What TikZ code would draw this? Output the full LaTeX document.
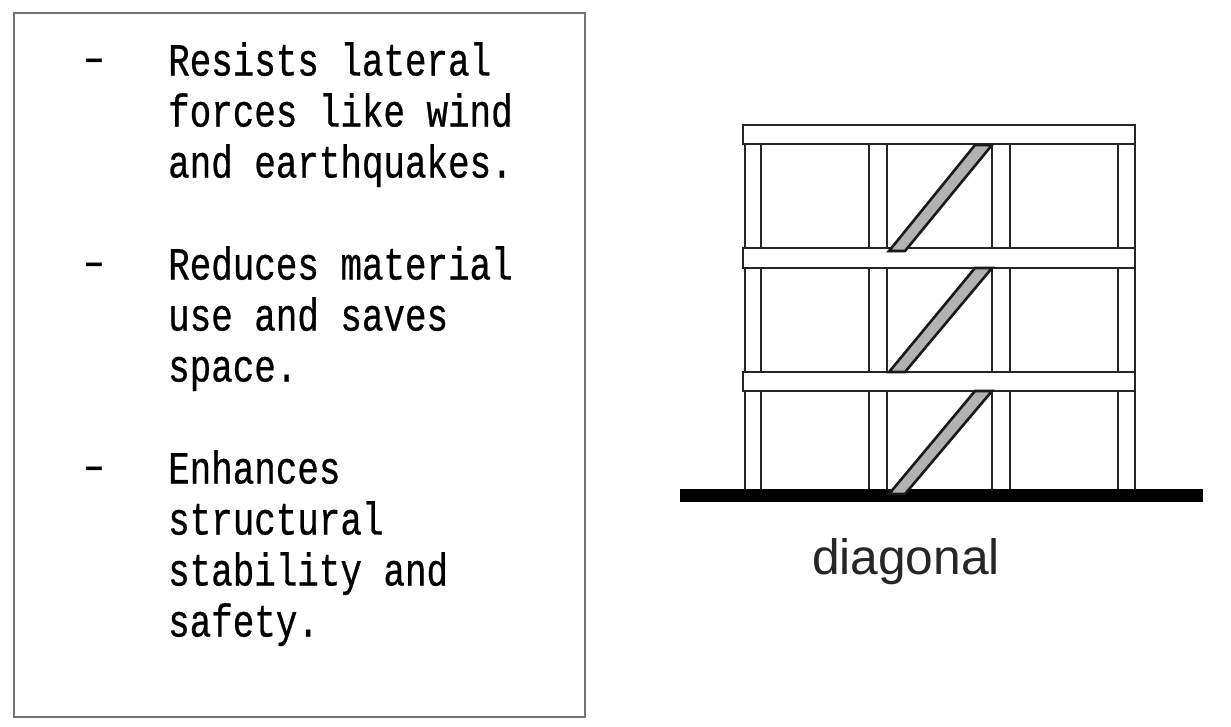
\documentclass[tikz,border=0pt]{standalone}
\usepackage{fontspec}
\setmainfont{Liberation Sans}
\newfontfamily\notefont[FakeStretch=0.78,FakeBold=0.6]{Liberation Mono}
\usetikzlibrary{positioning}
\tikzset{
  panel/.style={draw=black!55,line width=2.2pt},
  notelbl/.style={font=\notefont\fontsize{46}{51}\selectfont,align=left,
    anchor=north west,inner sep=0pt,text=black},
  dashlbl/.style={font=\notefont\fontsize{46}{51}\selectfont,anchor=base west,
    inner sep=0pt,text=black},
  column/.style={draw=black!85,line width=2.8pt},
  beam/.style={draw=black!85,fill=white,line width=2.8pt},
  brace/.style={draw=black!90,fill=black!30,line width=2.6pt},
  ground/.style={fill=black},
  caption/.style={font=\fontsize{49.7}{55}\selectfont,text=black!85,inner sep=0pt},
}
\begin{document}
\begin{tikzpicture}[x=1pt,y=-1pt]
  \useasboundingbox (0,0) rectangle (1231,726);
  \fill[white] (0,0) rectangle (1231,726);
  % left panel
  \draw[panel] (14,13) rectangle (585,717);
  \node[notelbl] (resists) at (168,42) {Resists lateral\\forces like wind\\and earthquakes.};
  \node[notelbl] (reduces) at (168,246) {Reduces material\\use and saves\\space.};
  \node[notelbl] (enhances) at (168,450) {Enhances\\structural\\stability and\\safety.};
  \foreach \name/\y in {a/72,b/276,c/480}
    \node[dashlbl] (dash\name) at (83,\y) {–};
  % frame
  \foreach \x in {745,761,869,887,992,1010,1118,1135}
    \draw[column] (\x,144) -- (\x,490);
  \foreach \top/\bot in {125/144,248/268,372/391}
    \draw[beam] (743,\top) rectangle (1135,\bot);
  \fill[ground] (680,489) rectangle (1203,502);
  % braces
  \foreach \top/\bot in {145/251,268/372,391/494}
    \draw[brace] (889,\bot) -- (975,\top) -- (992,\top) -- (905,\bot) -- cycle;
  \node[caption,anchor=base] (diagonal) at (906,574) {diagonal};
\end{tikzpicture}
\end{document}
